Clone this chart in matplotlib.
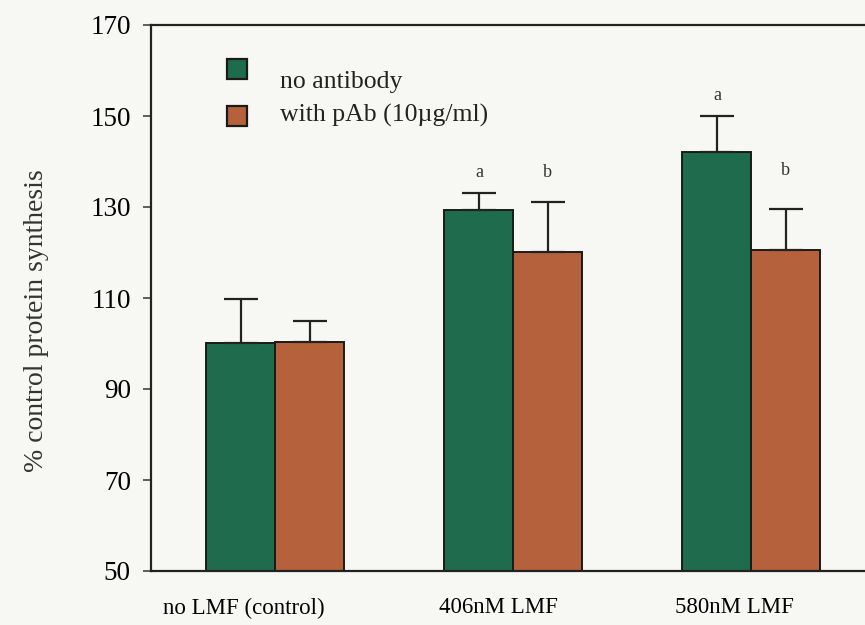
import matplotlib
matplotlib.use("Agg")
import matplotlib.pyplot as plt
from matplotlib.patches import Rectangle
from matplotlib.transforms import ScaledTranslation
import numpy as np

categories = ["no LMF (control)", "406nM LMF", "580nM LMF"]
series_names = ["no antibody", "with pAb (10\u00b5g/ml)"]
no_antibody = [100.2, 129.3, 142.1]
no_antibody_err = [9.6, 3.8, 8.0]
with_pab = [100.3, 120.2, 120.5]
with_pab_err = [4.7, 10.9, 9.1]
letters_no_ab = ["", "a", "a"]
letters_no_ab_y = [None, 137.5, 154.6]
letters_pab = ["", "b", "b"]
letters_pab_y = [None, 137.5, 138.0]
yticks = [50, 70, 90, 110, 130, 150, 170]

green = "#1f6b4d"
orange = "#b5623c"
bg = "#f7f7f4"
edge = "#1a1a1a"

plt.rcParams['font.family'] = ['Liberation Serif', 'DejaVu Serif']

W, H = 865, 625
fig = plt.figure(figsize=(W/100, H/100), dpi=100, facecolor=bg)
ax_w = 1 - 151/W + 0.02
ax = fig.add_axes([151/W, 54/H, ax_w, (571-25)/H])
ax.set_facecolor(bg)

x = np.arange(len(categories))
w = 0.29
ekw = dict(elinewidth=1.6, capthick=1.6, ecolor="#222222")
ax.bar(x - w/2, no_antibody, w, color=green, edgecolor=edge, linewidth=1.4,
       yerr=[np.zeros(3), no_antibody_err], capsize=12, error_kw=ekw, zorder=2)
ax.bar(x + w/2, with_pab, w, color=orange, edgecolor=edge, linewidth=1.4,
       yerr=[np.zeros(3), with_pab_err], capsize=12, error_kw=ekw, zorder=2)

for i in range(3):
    if letters_no_ab[i]:
        ax.text(x[i] - w/2, letters_no_ab_y[i], letters_no_ab[i], ha="center", va="center",
                fontsize=13, color="#333333")
    if letters_pab[i]:
        ax.text(x[i] + w/2, letters_pab_y[i], letters_pab[i], ha="center", va="center",
                fontsize=13, color="#333333")

ax.set_ylim(50, 170)
ax.set_xlim(-0.523, 2.55)
ax.set_yticks(yticks)
ax.set_xticks(x)
ax.set_xticklabels(categories, fontsize=16.5)
ax.tick_params(axis="x", length=0, pad=19)
ax.tick_params(axis="y", length=5.5, width=1.2, labelsize=19.5, pad=9, color="#444444")
label_shift_px = [-32, -15, -17]
for lbl, dx in zip(ax.get_xticklabels(), label_shift_px):
    lbl.set_transform(lbl.get_transform() + ScaledTranslation(dx/100, 0, fig.dpi_scale_trans))

for s in ["left", "top", "bottom"]:
    ax.spines[s].set_linewidth(1.6)
    ax.spines[s].set_color("#222222")
ax.spines["right"].set_visible(False)
ax.set_ylabel("% control protein synthesis", fontsize=20, color="#333333")
ax.yaxis.set_label_coords(-0.14, 0.458)

# legend (squares and labels, as in the original layout)
leg_colors = [green, orange]
sq_top_px = [59, 106]
txt_base_px = [88, 122]
for name, col, top, base in zip(series_names, leg_colors, sq_top_px, txt_base_px):
    fig.patches.append(Rectangle((227/W, 1 - (top+20)/H), 20/W, 20/H, transform=fig.transFigure,
                                 facecolor=col, edgecolor=edge, linewidth=1.6, zorder=5))
    fig.text(280/W, 1 - base/H, name, fontsize=18.5, ha="left", va="baseline", color="#222222")

fig.savefig("out.png", dpi=100, facecolor=bg)
